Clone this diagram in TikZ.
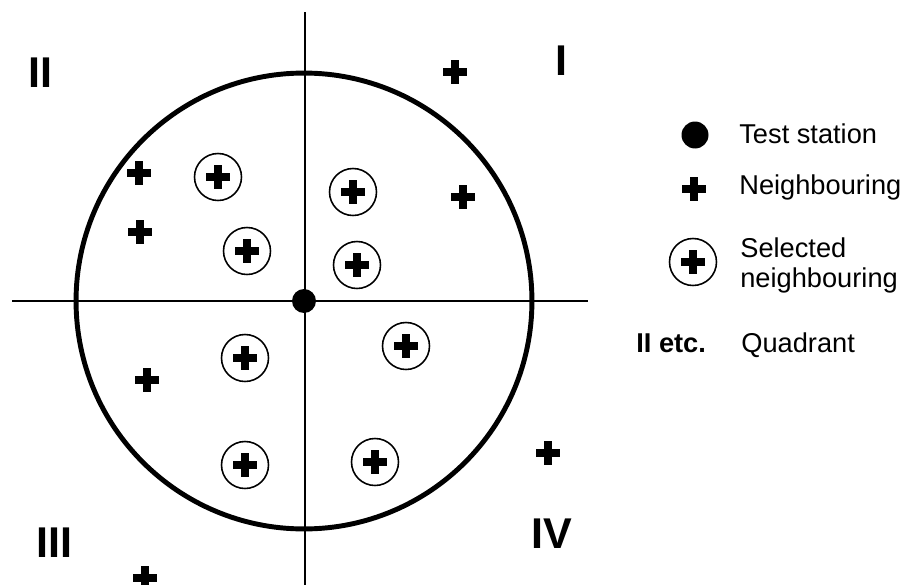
\documentclass[tikz,border=0pt]{standalone}
\usepackage{fontspec}
\setmainfont{Liberation Sans}
\tikzset{
  nbr/.pic={\draw[line width=0.15cm] (-12,0) -- (12,0) (0,-12) -- (0,12);},
  selnbr/.pic={\draw[line width=0.9pt] (0,0) circle (0.47cm);
    \draw[line width=0.15cm] (-12,0) -- (12,0) (0,-12) -- (0,12);},
  quad/.style={font=\fontsize{24.5}{28}\selectfont\bfseries, anchor=base west, inner sep=0pt},
  legtext/.style={font=\fontsize{15.5}{18}\selectfont, anchor=base west, inner sep=0pt}
}
\begin{document}
\begin{tikzpicture}[x=0.02cm,y=-0.02cm]
\useasboundingbox (0,0) rectangle (914,585);
% 坐标轴与搜索圆
\coordinate (O) at (304,301);
\coordinate (xl) at (12,301);
\coordinate (xr) at (588,301);
\coordinate (yt) at (305,12);
\coordinate (yb) at (305,585);
\draw[line width=1.7pt] (xl) -- (xr);
\draw[line width=1.7pt] (yt) -- (yb);
\draw[line width=2.8pt] (O) circle (4.56cm);
\fill (O) circle (0.24cm);
% 象限
\node[quad] (qI) at (555,75) {I};
\node[quad] (qII) at (28,87) {II};
\node[quad] (qIII) at (36,557) {III};
\node[quad] (qIV) at (531,548) {IV};
% 邻站
\pic (n1) at (455,72) {nbr};
\pic (n2) at (139,173) {nbr};
\pic (n3) at (463,197) {nbr};
\pic (n4) at (140,232) {nbr};
\pic (n5) at (147,380) {nbr};
\pic (n6) at (548,453) {nbr};
\pic (n7) at (145,578) {nbr};
% 选中的邻站
\pic (s1) at (218,177) {selnbr};
\pic (s2) at (353,192) {selnbr};
\pic (s3) at (247,251) {selnbr};
\pic (s4) at (357,265) {selnbr};
\pic (s5) at (406,346) {selnbr};
\pic (s6) at (245,358) {selnbr};
\pic (s7) at (375,462) {selnbr};
\pic (s8) at (245,465) {selnbr};
% 图例
\fill (695,135) circle (0.27cm);
\node[legtext] (lt) at (739,143) {Test station};
\pic (lnsym) at (694,189) {nbr};
\node[legtext] (ln) at (739,194) {Neighbouring};
\pic (lssym) at (693,262) {selnbr};
\node[legtext] (lsa) at (740,257) {Selected};
\node[legtext] (lsb) at (740,287) {neighbouring};
\node[legtext, font=\fontsize{15.5}{18}\selectfont\bfseries] (lq) at (636,352) {II etc.};
\node[legtext] (lqt) at (741,352) {Quadrant};
\end{tikzpicture}
\end{document}
